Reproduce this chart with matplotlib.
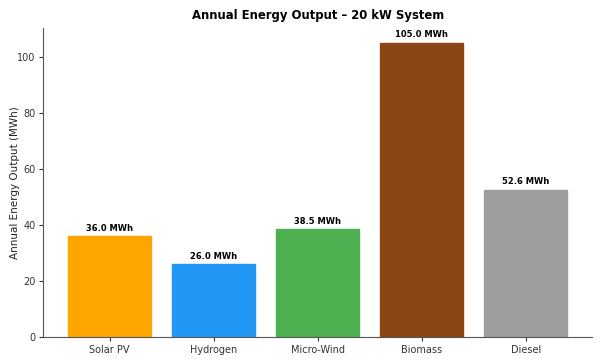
import matplotlib
matplotlib.use("Agg")
import matplotlib.pyplot as plt

categories = ["Solar PV", "Hydrogen", "Micro-Wind", "Biomass", "Diesel"]
values = [36.0, 26.0, 38.5, 105.0, 52.6]
colors = ["#FFA500", "#2196F3", "#4CAF50", "#8B4513", "#9E9E9E"]

fig, ax = plt.subplots(figsize=(6, 3.6), dpi=100)
bars = ax.bar(categories, values, color=colors, width=0.8, edgecolor=colors)
for b, v in zip(bars, values):
    ax.text(b.get_x() + b.get_width() / 2, v + 1.2, f"{v:.1f} MWh",
            ha="center", va="bottom", fontsize=6, fontweight="bold")
ax.set_ylim(0, 110.25)
ax.set_title("Annual Energy Output – 20 kW System", fontsize=8.4, fontweight="bold", pad=6.5)
ax.set_ylabel("Annual Energy Output (MWh)", fontsize=7.5, color="#222222")
ax.yaxis.set_label_coords(-0.043, 0.5)
ax.tick_params(labelsize=7, colors="#333333", length=3, pad=2.5)
for s in ["left", "bottom"]:
    ax.spines[s].set_color("#555555")
ax.spines["top"].set_visible(False)
ax.spines["right"].set_visible(False)
fig.subplots_adjust(left=0.072, right=0.987, top=0.922, bottom=0.064)
fig.savefig("out.png", dpi=100)
